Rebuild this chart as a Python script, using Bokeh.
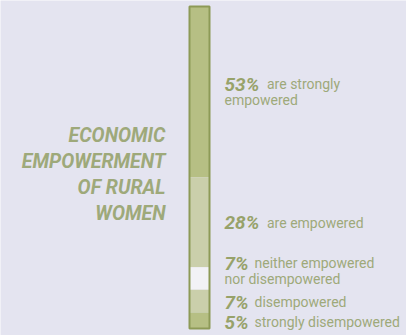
import numpy as np
from bokeh.plotting import figure
from bokeh.models import ColumnDataSource, Range1d
from bokeh.core.properties import value
from bokeh.embed import file_html
from bokeh.resources import INLINE

# ---- data ----
categories = ["strongly empowered", "empowered", "neither empowered nor disempowered",
              "disempowered", "strongly disempowered"]
shares = [53, 28, 7, 7, 5]
pct_labels = ["53%", "28%", "7%", "7%", "5%"]
desc_lines = [["are strongly", "empowered"], ["are empowered"],
              ["neither empowered", "nor disempowered"], ["disempowered"],
              ["strongly disempowered"]]
title_lines = ["ECONOMIC", "EMPOWERMENT", "OF RURAL", "WOMEN"]

# ---- styles / layout ----
BG = "#e4e4f0"
SEG_COLORS = ["#b6bf84", "#cacfab", "#f2f2f6", "#cacfab", "#b6bf84"]
BORDER = "#8d9a57"
TXT = "#9ea97a"
PCT = "#97a26a"
W, H = 406, 335
BAR_X = 199          # px centre of bar
BAR_W = 20
TOP_PX, BOT_PX = 6, 328   # bar top/bottom in pixels from top
TX = 224                  # left edge of labels
FIX = -7.5                # baseline correction, px
first_line_shift = [0, 8, -8, 8.5, 9.5]   # baseline of first label line vs segment centre, px
LINE_H = 15.5
TITLE_RIGHT = 165
TITLE_BASE0, TITLE_STEP = 142, 26

p = figure(width=W, height=H, output_backend="svg", toolbar_location=None,
           min_border=0, background_fill_color=BG, border_fill_color=BG,
           outline_line_color=None)
p.axis.visible = False
p.grid.visible = False
p.x_range = Range1d(0, W)
scale = 100.0 / (BOT_PX - TOP_PX)
p.y_range = Range1d(-(H - BOT_PX) * scale, 100 + TOP_PX * scale)

# stacked segments from top (strongly empowered) to bottom
vals = np.array(shares, dtype=float)
tops = vals.sum() - np.concatenate([[0], np.cumsum(vals)[:-1]])
bottoms = tops - vals
src = ColumnDataSource(dict(x=[BAR_X] * len(vals), top=tops, bottom=bottoms,
                            color=SEG_COLORS, cat=categories))
p.vbar(x="x", width=BAR_W, top="top", bottom="bottom", fill_color="color",
       line_color=None, source=src)
# outline around whole bar
p.vbar(x=[BAR_X], width=BAR_W, top=[tops.max()], bottom=[bottoms.min()],
       fill_color=None, line_color=BORDER, line_width=2)

# labels
centers = (tops + bottoms) / 2
pct_y, pct_off = [], []
d_y, d_xo, d_yo, d_t = [], [], [], []
for i, lines in enumerate(desc_lines):
    base = first_line_shift[i] + FIX
    pct_y.append(centers[i]); pct_off.append(base)
    for j, ln in enumerate(lines):
        d_y.append(centers[i])
        d_xo.append(12.5 * len(pct_labels[i]) + 5 if j == 0 else 0)
        d_yo.append(base + LINE_H * j)
        d_t.append(ln)

p.text(x=[TX] * len(pct_labels), y=pct_y, text=pct_labels, y_offset=pct_off,
       text_align="left", text_baseline="alphabetic", text_font=value("Roboto"),
       text_font_style="bold italic", text_font_size="19px", text_color=PCT)
p.text(x=[TX] * len(d_t), y=d_y, text=d_t, x_offset=d_xo, y_offset=d_yo,
       text_align="left", text_baseline="alphabetic", text_font=value("Roboto"),
       text_font_size="14px", text_color=TXT)

# title (baselines given in pixels, converted through the vertical scale)
title_y = [100 - (TITLE_BASE0 + FIX + k * TITLE_STEP - TOP_PX) * scale for k in range(4)]
p.text(x=[TITLE_RIGHT] * 4, y=title_y, text=title_lines, text_align="right",
       text_baseline="alphabetic", text_font=value("Roboto"), text_font_style="bold italic",
       text_font_size="19.5px", text_color=TXT)

open("out.html", "w").write(file_html(p, INLINE))
